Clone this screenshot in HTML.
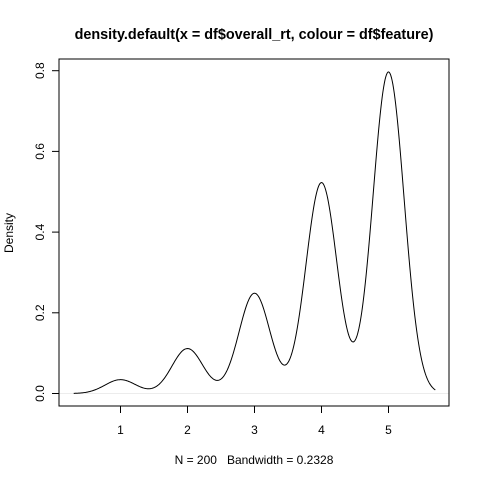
<!DOCTYPE html>
<html><head><meta charset="utf-8"><style>
html,body{margin:0;padding:0;background:#fff;}
svg{display:block;font-family:"Liberation Sans",Arial,sans-serif;}
</style></head><body>
<svg id="chart" width="480" height="480" viewBox="0 0 480 480">
<text x="254" y="39" text-anchor="middle" font-size="14.4" font-weight="bold">density.default(x = df$overall_rt, colour = df$feature)</text>
<text x="254" y="464" text-anchor="middle" font-size="12" style="white-space:pre" xml:space="preserve">N = 200   Bandwidth = 0.2328</text>
<text transform="translate(13,233) rotate(-90)" text-anchor="middle" font-size="12">Density</text>
<g id="xaxis"></g>
<g id="yaxis"></g>
<line x1="59" x2="449" y1="393.5" y2="393.5" stroke="#ececec" stroke-width="1"/>
<path id="curve" fill="none" stroke="#000" stroke-width="1"/>
<rect x="59" y="59" width="390" height="347" fill="none" stroke="#000" stroke-width="1"/>
</svg>
<script>
const ratings = [1, 2, 3, 4, 5];
const counts = [4, 13, 29, 61, 93];
const bandwidth = 0.2328;
const xTicks = [1, 2, 3, 4, 5];
const yTicks = [0.0, 0.2, 0.4, 0.6, 0.8];
const yTickLabels = ["0.0", "0.2", "0.4", "0.6", "0.8"];

const X0 = 120.5, XS = 67, Y0 = 393.5, YS = 403.5;
function sx(v){ return X0 + (v - 1) * XS; }
function sy(v){ return Y0 - v * YS; }
const NS = "http://www.w3.org/2000/svg";

const N = counts.reduce((a,b)=>a+b,0);
const lo = Math.min(...ratings) - 3*bandwidth, hi = Math.max(...ratings) + 3*bandwidth;
let d = "";
for (let i = 0; i < 512; i++) {
  const x = lo + (hi - lo) * i / 511;
  let y = 0;
  for (let k = 0; k < ratings.length; k++) {
    const z = (x - ratings[k]) / bandwidth;
    y += counts[k] * Math.exp(-0.5*z*z) / (bandwidth*Math.sqrt(2*Math.PI));
  }
  y /= N;
  d += (i ? "L" : "M") + sx(x).toFixed(2) + "," + sy(y).toFixed(2);
}
document.getElementById("curve").setAttribute("d", d);

const xa = document.getElementById("xaxis");
xa.innerHTML += '<line x1="'+sx(xTicks[0])+'" x2="'+sx(xTicks[xTicks.length-1])+'" y1="406" y2="406" stroke="#000"/>';
xTicks.forEach(t=>{
  const l = document.createElementNS(NS,"line");
  
  
  l.setAttribute("x1",sx(t)); l.setAttribute("x2",sx(t));
  l.setAttribute("y1",406); l.setAttribute("y2",413); l.setAttribute("stroke","#000");
  xa.appendChild(l);
  const tx = document.createElementNS(NS,"text");
  
  
  tx.setAttribute("x",sx(t)); tx.setAttribute("y",434);
  tx.setAttribute("text-anchor","middle"); tx.setAttribute("font-size","12");
  tx.textContent = t; xa.appendChild(tx);
});
const ya = document.getElementById("yaxis");
ya.innerHTML += '<line x1="59" x2="59" y1="'+sy(yTicks[0])+'" y2="'+sy(yTicks[yTicks.length-1])+'" stroke="#000"/>';
yTicks.forEach((t,i)=>{
  const l = document.createElementNS(NS,"line");
  
  
  l.setAttribute("x1",52); l.setAttribute("x2",59);
  l.setAttribute("y1",sy(t)); l.setAttribute("y2",sy(t)); l.setAttribute("stroke","#000");
  ya.appendChild(l);
  const tx = document.createElementNS(NS,"text");
  
  
  tx.setAttribute("transform","translate(44,"+sy(t)+") rotate(-90)");
  tx.setAttribute("text-anchor","middle"); tx.setAttribute("font-size","12");
  tx.textContent = yTickLabels[i]; ya.appendChild(tx);
});
</script>
</body></html>
